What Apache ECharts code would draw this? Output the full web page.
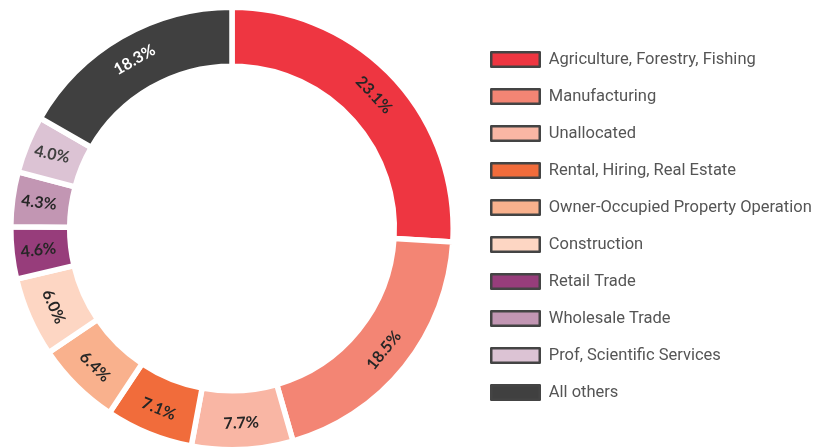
<!DOCTYPE html>
<html><head><meta charset="utf-8">
<script src="https://cdn.jsdelivr.net/npm/echarts@6/dist/echarts.min.js"></script>
<style>html,body{margin:0;padding:0;background:#fff}#c{width:821px;height:448px}</style>
</head><body><div id="c"></div><script>
// Categories in drawing order (clockwise from 12 o'clock)
const categories = ['Agriculture, Forestry, Fishing','Manufacturing','Unallocated','Rental, Hiring, Real Estate','Owner-Occupied Property Operation','Construction','Retail Trade','Wholesale Trade','Prof, Scientific Services','All others'];
// Slice sizes as drawn in the picture (share of the ring, %)
const arcShares = [26.0, 19.6, 7.4, 6.4, 6.2, 5.8, 3.8, 4.0, 4.2, 16.7];
// Percent labels printed on the slices
const shareLabels = ['23.1%','18.5%','7.7%','7.1%','6.4%','6.0%','4.6%','4.3%','4.0%','18.3%'];
const colors = ['#EE3641','#F38574','#F9B6A4','#F16C3B','#F9B18D','#FDD6C3','#973D7B','#C296B3','#DCC3D4','#404040'];
const labelColors = ['#262626','#262626','#262626','#262626','#262626','#262626','#262626','#262626','#404040','#ffffff'];
const labelRotate = ['tangential','tangential','tangential','tangential','tangential','tangential',6,-7,-12,'tangential'];

const chart = echarts.init(document.getElementById('c'), null, {renderer:'canvas'});
chart.setOption({
  animation:false,
  color: colors,
  legend:{
    orient:'vertical', left:490, top:51, padding:0,
    icon:'rect', itemWidth:48.5, itemHeight:14.5, itemGap:20,
    itemStyle:{borderColor:'#444444', borderWidth:2.5},
    textStyle:{fontFamily:'Roboto', fontSize:16.5, color:'#555555', lineHeight:17, padding:[0,0,0,4]},
    data: categories
  },
  series:[{
    type:'pie',
    center:[232, 228.5],
    radius:[162.3, 221.2],
    startAngle:90,
    clockwise:true,
    avoidLabelOverlap:false,
    itemStyle:{borderColor:'#ffffff', borderWidth:5.5},
    emphasis:{disabled:true},
    label:{
      show:true, position:'inside',
      fontFamily:'Lato', fontWeight:'bold', fontSize:16,
      formatter: p => shareLabels[p.dataIndex]
    },
    labelLine:{show:false},
    data: categories.map((name,i)=>({
      name, value: arcShares[i],
      label:{color: labelColors[i], rotate: labelRotate[i]}
    }))
  }]
});
</script></body></html>
